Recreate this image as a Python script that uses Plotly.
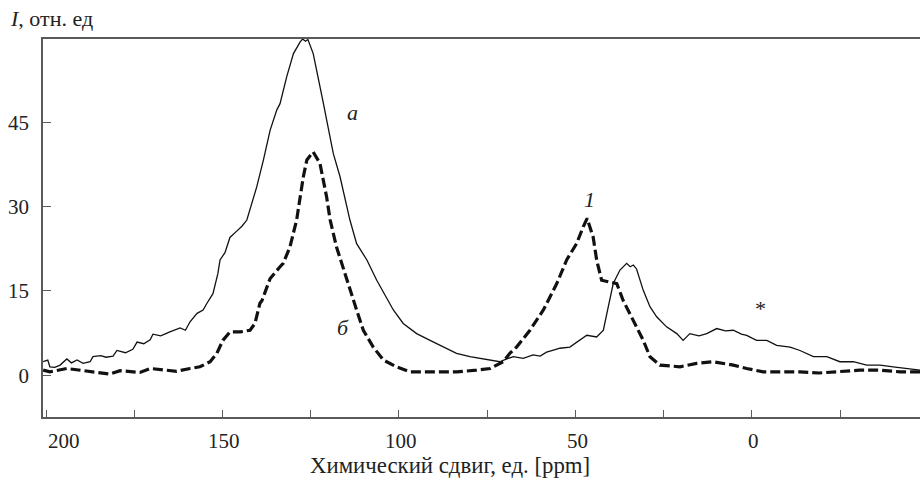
import plotly.graph_objects as go

# Curve "a" (solid) : chemical shift (ppm) and intensity
shift_a = [200.8, 199.5, 198.9, 197.5, 196.0, 194.1, 192.8, 191.2, 189.5, 187.5, 186.7, 184.5, 183.0,
           181.0, 179.9, 177.5, 175.4, 174.2, 172.3, 170.5, 169.7, 167.5, 164.9, 163.7, 162.0, 160.5,
           159.2, 157.2, 155.5, 154.4, 152.7, 151.3, 150.7, 149.3, 147.9, 146.2, 144.5, 143.1, 142.2,
           140.3, 138.4, 136.5, 134.6, 133.7, 131.8, 129.9, 128.0, 127.3, 126.5, 125.8, 124.3, 123.3,
           121.4, 120.5, 118.6, 116.7, 114.8, 113.9, 112.0, 109.1, 106.3, 103.5, 101.6, 98.8, 95.0,
           91.2, 87.5, 83.7, 79.9, 77.1, 74.2, 71.4, 69.5, 67.6, 64.8, 62.0, 60.0, 58.2, 56.0, 54.4,
           51.6, 48.7, 46.8, 44.0, 42.1, 40.7, 39.3, 37.4, 35.5, 34.5, 33.6, 32.7, 30.8, 28.9, 27.0,
           24.2, 21.3, 19.5, 17.6, 15.0, 12.8, 10.0, 7.5, 5.3, 3.0, 1.5, -1.3, -4.2, -7.0, -10.8,
           -13.6, -17.4, -21.2, -24.9, -28.7, -32.5, -36.3, -40.0, -43.8, -47.6]
int_a = [2.4, 2.7, 1.5, 1.4, 1.8, 2.9, 2.2, 2.7, 2.1, 2.4, 3.3, 3.5, 3.2,
         3.4, 4.4, 4.0, 4.6, 5.9, 5.6, 6.3, 7.3, 7.0, 7.7, 8.0, 8.4, 8.0,
         9.5, 11.0, 11.6, 12.8, 14.5, 18.1, 20.5, 21.8, 24.5, 25.5, 26.5, 27.6, 29.4,
         33.5, 38.3, 43.6, 47.2, 48.3, 53.1, 57.2, 59.3, 59.8, 59.4, 59.7, 57.2, 54.3,
         48.3, 45.4, 39.4, 35.3, 29.9, 27.6, 23.4, 20.5, 16.9, 13.6, 11.6, 9.2, 7.4,
         6.2, 5.0, 3.9, 3.3, 3.0, 2.7, 2.4, 2.9, 3.3, 3.0, 3.6, 3.4, 4.1, 4.5, 4.8,
         5.0, 6.2, 7.1, 6.8, 8.0, 12.2, 16.3, 18.7, 19.9, 19.3, 19.6, 18.9, 15.1, 12.2, 10.4,
         8.6, 7.4, 6.2, 7.4, 7.0, 7.4, 8.3, 7.9, 8.0, 7.3, 7.1, 6.2, 6.2, 5.3, 5.0,
         4.4, 3.3, 3.3, 2.4, 2.4, 1.8, 1.8, 1.5, 1.2, 0.9]

# Curve "б" (dashed)
shift_b = [200.8, 198.9, 194.1, 190.4, 184.7, 181.9, 179.0, 173.4, 170.5, 166.9, 163.0, 159.2,
           156.4, 153.5, 151.6, 149.9, 147.9, 145.0, 142.2, 140.8, 139.4, 138.8, 136.5, 133.7,
           132.8, 130.9, 129.0, 127.1, 126.1, 124.3, 122.4, 120.5, 119.5, 117.7, 114.8, 112.0,
           110.1, 107.3, 104.4, 100.7, 96.9, 92.2, 87.5, 83.7, 78.0, 74.2, 70.5, 68.6, 66.7,
           62.9, 59.1, 55.3, 52.5, 49.7, 47.8, 46.7, 45.0, 44.0, 42.6, 40.2, 38.3, 36.5, 33.6,
           30.8, 28.9, 26.1, 20.4, 15.7, 11.0, 5.3, 1.5, -3.2, -7.9, -13.6, -19.0, -24.9,
           -30.5, -36.3, -42.0, -47.6]
int_b = [0.9, 0.6, 1.2, 0.9, 0.4, 0.2, 0.8, 0.5, 1.2, 0.9, 0.7, 1.2,
         1.5, 2.4, 3.9, 6.2, 7.7, 7.7, 8.0, 9.2, 12.8, 13.3, 17.2, 19.3,
         19.9, 22.8, 27.6, 35.3, 38.3, 39.7, 37.7, 31.7, 27.6, 22.8, 16.9, 11.6,
         8.0, 5.0, 2.7, 1.5, 0.6, 0.6, 0.6, 0.6, 0.9, 1.2, 2.4, 3.9, 5.0,
         8.0, 11.6, 16.3, 20.5, 23.4, 26.4, 27.9, 24.6, 20.5, 16.9, 16.6, 16.3, 13.3, 9.8,
         6.2, 3.3, 1.8, 1.5, 2.1, 2.4, 1.8, 1.2, 0.6, 0.6, 0.6, 0.4, 0.6,
         0.9, 0.9, 0.6, 0.6]

x_ticks = [200, 175, 150, 125, 100, 75, 50, 25, 0, -25]
x_labels = ["200", "", "150", "", "100", "", "50", "", "0", ""]
y_ticks = [0, 15, 30, 45]

# curve labels: (x, y, text)
curve_labels = [(113.3, 46.8, "<i>a</i>"), (115.9, 8.5, "<i>б</i>"),
                (45.9, 31.3, "<i>1</i>"), (-2.5, 11.8, "*")]

X_RANGE = [200.85, -47.6]
Y_RANGE = [-7.43, 59.8]

FONT = "Liberation Serif"
AX = "#5a5a5a"
TXT = "#222222"

fig = go.Figure()
fig.add_trace(go.Scatter(x=shift_a, y=int_a, mode="lines",
                         line=dict(color="#111111", width=1.3), showlegend=False))
fig.add_trace(go.Scatter(x=shift_b, y=int_b, mode="lines",
                         line=dict(color="#111111", width=3.2, dash="10px,4px"), showlegend=False))

annotations = []
for xv, lab in zip(x_ticks, x_labels):
    if not lab:
        continue
    edge = xv >= X_RANGE[0] - 2
    annotations.append(dict(x=xv, y=0, xref="x", yref="paper", text=lab, showarrow=False,
                            xanchor="left" if edge else "center", yanchor="middle",
                            xshift=0 if edge else 2, yshift=-24,
                            font=dict(family=FONT, size=21, color=TXT)))
for xv, yv, t in curve_labels:
    annotations.append(dict(x=xv, y=yv, xref="x", yref="y", text=t, showarrow=False,
                            font=dict(family=FONT, size=22, color=TXT)))
annotations.append(dict(x=0, y=1, xref="paper", yref="paper", text="<i>I</i>, отн. ед",
                        showarrow=False, xanchor="left", yanchor="middle", xshift=-35, yshift=21,
                        font=dict(family=FONT, size=22, color=TXT)))
annotations.append(dict(x=(449.8 - 43) / 877, y=0, xref="paper", yref="paper",
                        text="Химический сдвиг, ед. [ppm]", showarrow=False,
                        xanchor="center", yanchor="middle", yshift=-48,
                        font=dict(family=FONT, size=22.8, color=TXT)))

fig.update_layout(
    width=920, height=482,
    margin=dict(l=43, r=0, t=39, b=65),
    plot_bgcolor="white", paper_bgcolor="white",
    annotations=annotations,
    font=dict(family=FONT, size=20, color=TXT),
)
fig.update_xaxes(range=X_RANGE, tickvals=x_ticks, showticklabels=False, ticks="inside",
                 ticklen=7, tickcolor=AX, tickwidth=1.3, showline=True, linecolor=AX, linewidth=1.8,
                 mirror=True, showgrid=False, zeroline=False)
fig.update_yaxes(range=Y_RANGE, tickvals=y_ticks, ticks="inside", ticklen=8, tickcolor=AX,
                 tickwidth=1.3, showline=True, linecolor=AX, linewidth=1.8, showgrid=False,
                 zeroline=False, ticklabelstandoff=8,
                 tickfont=dict(family=FONT, size=21, color=TXT))

# remove the default 8px page margin so the 920x482 figure fills the window exactly
fig.write_html("out.html", config={"displayModeBar": False},
               post_script="document.body.style.margin='0';document.body.style.overflow='hidden';")
